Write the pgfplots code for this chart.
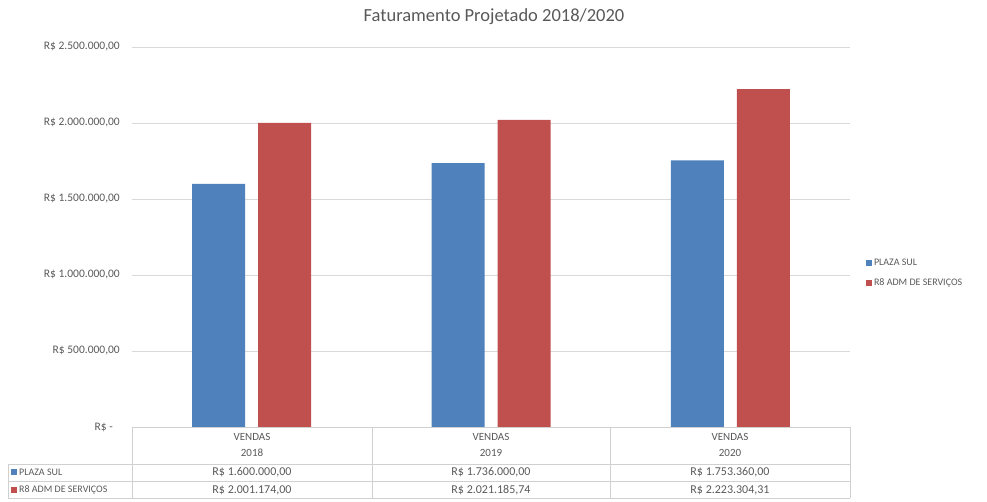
\documentclass[border=0pt]{standalone}
\usepackage{pgfplots}
\pgfplotsset{compat=1.18}
\usepackage{fontspec}
\setmainfont{Carlito}
\definecolor{cblue}{HTML}{4F81BD}
\definecolor{cred}{HTML}{C0504D}
\definecolor{gridc}{HTML}{D9D9D9}
\definecolor{txt}{HTML}{595959}
\definecolor{tline}{HTML}{D0D0D0}
\begin{document}
\begin{tikzpicture}
\begin{axis}[name=ax, scale only axis,
  width=718pt, height=380pt,
  xmin=0, xmax=3, ymin=0, ymax=2500000,
  ybar=13pt, bar width=53pt,
  axis line style={draw=none},
  xtick=\empty,
  ytick={0,500000,1000000,1500000,2000000,2500000},
  yticklabels={R\$ -\hspace*{7pt}, R\$ 500.000{,}00, R\$ 1.000.000{,}00, R\$ 1.500.000{,}00, R\$ 2.000.000{,}00, R\$ 2.500.000{,}00},
  scaled y ticks=false,
  ymajorgrids, grid style={gridc, line width=0.8pt},
  major tick length=0pt,
  yticklabel style={font=\fontsize{11.5}{13}\selectfont, text=txt, inner xsep=0pt, xshift=-12pt},
  clip=false,
  legend style={at={(1.022,0.405)}, anchor=west, draw=none, fill=none,
    font=\fontsize{10}{12}\selectfont, text=txt, row sep=8pt, inner sep=0pt,
    legend cell align=left},
  legend image code/.code={\fill[#1] (0pt,-3pt) rectangle (6pt,3pt);},
]
\coordinate (LL) at (rel axis cs:0,0);
\addplot[fill=cblue, draw=none] coordinates {(0.5,1600000) (1.5,1736000) (2.5,1753360)};
\addlegendentry{PLAZA SUL}
\addplot[fill=cred, draw=none] coordinates {(0.5,2001174) (1.5,2021185.74) (2.5,2223304.31)};
\addlegendentry{R8 ADM DE SERVIÇOS}
\end{axis}
\begin{scope}[shift={(LL)}, x=1pt, y=1pt]
\begin{scope}[shift={(-132,-74)}]
\path[use as bounding box] (0,0) rectangle (987,501);
% title
\node[text=txt, font=\fontsize{18.5}{22}\selectfont] at (494,484) {Faturamento Projetado 2018/2020};
% data table
\begin{scope}[tline, line width=0.8pt]
\draw (132,74) -- (850,74);
\draw (8,37) -- (850,37);
\draw (8,20) -- (850,20);
\draw (8,3) -- (850,3);
\draw (8,37) -- (8,3);
\foreach \xx in {132,372,610,850} \draw (\xx,74) -- (\xx,3);
\end{scope}
\begin{scope}[text=txt]
\foreach \xx/\yy in {252/2018, 491/2019, 730/2020} {
  \node[font=\fontsize{11}{13}\selectfont] at (\xx,64) {VENDAS};
  \node[font=\fontsize{11}{13}\selectfont] at (\xx,48) {\yy};
}
\begin{scope}[font=\fontsize{12}{14}\selectfont]
\node at (252,29) {R\$ 1.600.000,00};
\node at (491,29) {R\$ 1.736.000,00};
\node at (730,29) {R\$ 1.753.360,00};
\node at (252,11) {R\$ 2.001.174,00};
\node at (491,11) {R\$ 2.021.185,74};
\node at (730,11) {R\$ 2.223.304,31};
\end{scope}
\fill[cblue] (11,26) rectangle (17,32);
\fill[cred] (11,8) rectangle (17,14);
\node[anchor=west, inner sep=0pt, font=\fontsize{10}{12}\selectfont] at (19,29) {PLAZA SUL};
\node[anchor=west, inner sep=0pt, font=\fontsize{10}{12}\selectfont] at (19,11) {R8 ADM DE SERVIÇOS};
\end{scope}
\end{scope}
\end{scope}
\end{tikzpicture}
\end{document}
